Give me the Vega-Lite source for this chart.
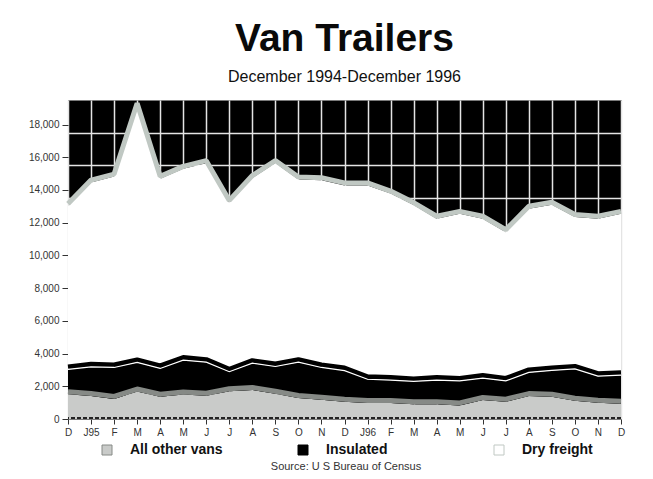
{
  "$schema": "https://vega.github.io/schema/vega-lite/v6.json",
  "width": 553,
  "height": 319,
  "autosize": {"type": "none"},
  "padding": {"left": 68, "top": 100, "right": 32, "bottom": 60},
  "background": "white",
  "config": {
    "font": "Liberation Sans",
    "view": {"fill": "#000000", "stroke": "#7a7a7a", "strokeWidth": 1}
  },
  "title": {
    "text": "Van Trailers",
    "subtitle": "December 1994-December 1996",
    "font": "Liberation Sans",
    "fontSize": 39,
    "fontWeight": "bold",
    "color": "#0a0a0a",
    "subtitleFont": "Liberation Sans",
    "subtitleFontSize": 16,
    "subtitleColor": "#111111",
    "anchor": "middle",
    "offset": 15,
    "subtitlePadding": 10
  },
  "data": {
    "values": [
      {"month": "1994-12", "All other vans": 1520, "Insulated": 1510, "Dry freight": 9970},
      {"month": "1995-01", "All other vans": 1400, "Insulated": 1790, "Dry freight": 11260},
      {"month": "1995-02", "All other vans": 1230, "Insulated": 1920, "Dry freight": 11670},
      {"month": "1995-03", "All other vans": 1680, "Insulated": 1780, "Dry freight": 15690},
      {"month": "1995-04", "All other vans": 1360, "Insulated": 1730, "Dry freight": 11590},
      {"month": "1995-05", "All other vans": 1500, "Insulated": 2100, "Dry freight": 11690},
      {"month": "1995-06", "All other vans": 1420, "Insulated": 2055, "Dry freight": 12165},
      {"month": "1995-07", "All other vans": 1700, "Insulated": 1190, "Dry freight": 10320},
      {"month": "1995-08", "All other vans": 1780, "Insulated": 1630, "Dry freight": 11320},
      {"month": "1995-09", "All other vans": 1540, "Insulated": 1670, "Dry freight": 12440},
      {"month": "1995-10", "All other vans": 1280, "Insulated": 2190, "Dry freight": 11170},
      {"month": "1995-11", "All other vans": 1180, "Insulated": 1970, "Dry freight": 11450},
      {"month": "1995-12", "All other vans": 1060, "Insulated": 1900, "Dry freight": 11320},
      {"month": "1996-01", "All other vans": 980, "Insulated": 1450, "Dry freight": 11850},
      {"month": "1996-02", "All other vans": 980, "Insulated": 1400, "Dry freight": 11400},
      {"month": "1996-03", "All other vans": 900, "Insulated": 1400, "Dry freight": 10780},
      {"month": "1996-04", "All other vans": 900, "Insulated": 1480, "Dry freight": 9860},
      {"month": "1996-05", "All other vans": 830, "Insulated": 1500, "Dry freight": 10210},
      {"month": "1996-06", "All other vans": 1160, "Insulated": 1340, "Dry freight": 9740},
      {"month": "1996-07", "All other vans": 1060, "Insulated": 1270, "Dry freight": 9090},
      {"month": "1996-08", "All other vans": 1400, "Insulated": 1450, "Dry freight": 10000},
      {"month": "1996-09", "All other vans": 1360, "Insulated": 1610, "Dry freight": 10130},
      {"month": "1996-10", "All other vans": 1120, "Insulated": 1940, "Dry freight": 9290},
      {"month": "1996-11", "All other vans": 1000, "Insulated": 1620, "Dry freight": 9620},
      {"month": "1996-12", "All other vans": 930, "Insulated": 1750, "Dry freight": 9860}
    ]
  },
  "transform": [
    {"fold": ["All other vans", "Insulated", "Dry freight"], "as": ["type", "value"]},
    {"stack": "value", "groupby": ["month"], "as": ["v0", "v1"]}
  ],
  "layer": [
    {
      "mark": {"type": "area", "interpolate": "linear"},
      "encoding": {
        "x": {
          "field": "month",
          "type": "ordinal",
          "scale": {"type": "point", "padding": 0},
          "axis": {
            "title": null,
            "labelAngle": 0,
            "labelExpr": "slice(datum.value,5)=='01' ? 'J' + slice(datum.value,2,4) : ['J','F','M','A','M','J','J','A','S','O','N','D'][toNumber(slice(datum.value,5))-1]",
            "labelFontSize": 10,
            "labelColor": "#333333",
            "labelPadding": 3,
            "tickColor": "#333333",
            "tickSize": 5,
            "domain": false,
            "grid": true,
            "gridColor": "#e4e4e4",
            "gridWidth": 1.5
          }
        },
        "y": {
          "field": "v1",
          "type": "quantitative",
          "scale": {"domain": [0, 19500], "nice": false, "zero": true},
          "axis": {
            "title": null,
            "tickCount": 60,
            "values": [0, 1500, 2000, 3500, 4000, 5500, 6000, 7500, 8000, 9500, 10000, 11500, 12000, 13500, 14000, 15500, 16000, 17500, 18000],
            "labelExpr": "datum.value % 2000 == 0 ? format(datum.value, ',d') : ''",
            "labelOverlap": false,
            "grid": true,
            "gridColor": "#e4e4e4",
            "gridWidth": 1.5,
            "gridOpacity": {"condition": {"test": "datum.value % 2000 == 0", "value": 0}, "value": 1},
            "tickOpacity": {"condition": {"test": "datum.value % 2000 == 0", "value": 1}, "value": 0},
            "domain": false,
            "tickColor": "#333333",
            "tickSize": 6,
            "labelFontSize": 10,
            "labelColor": "#333333",
            "labelPadding": 3
          }
        },
        "y2": {"field": "v0"},
        "color": {
          "field": "type",
          "type": "nominal",
          "scale": {
            "domain": ["All other vans", "Insulated", "Dry freight"],
            "range": ["#c9cbc9", "#000000", "#ffffff"]
          },
          "legend": {
            "orient": "none",
            "legendX": 32,
            "legendY": 343,
            "direction": "horizontal",
            "gridAlign": "all",
            "columnPadding": 73,
            "labelOffset": 16,
            "symbolType": "square",
            "symbolSize": 100,
            "symbolStrokeColor": "#222222",
            "symbolStrokeWidth": 1,
            "labelFontSize": 14,
            "labelFontWeight": "bold",
            "labelColor": "#111111",
            "title": "Source:  U S Bureau of Census",
            "titleOrient": "bottom",
            "titleAnchor": "middle",
            "titleFontSize": 11,
            "titleFontWeight": "normal",
            "titleColor": "#333333",
            "titlePadding": 4
          }
        }
      }
    },
    {
      "mark": {"type": "line", "strokeWidth": 5, "yOffset": -2.5, "strokeJoin": "bevel"},
      "encoding": {
        "x": {"field": "month", "type": "ordinal"},
        "y": {"field": "v1", "type": "quantitative"},
        "stroke": {
          "field": "type",
          "type": "nominal",
          "scale": {
            "domain": ["All other vans", "Insulated", "Dry freight"],
            "range": ["#868a86", "#000000", "#c0c8c3"]
          },
          "legend": null
        }
      }
    },
    {
      "transform": [{"filter": "datum.type === 'Insulated'"}],
      "mark": {"type": "line", "stroke": "#ffffff", "strokeWidth": 1.2},
      "encoding": {
        "x": {"field": "month", "type": "ordinal"},
        "y": {"field": "v1", "type": "quantitative"}
      }
    },
    {
      "data": {"values": [{}]},
      "mark": {"type": "rule", "color": "#222222", "strokeDash": [4, 2], "strokeWidth": 2, "yOffset": -1},
      "encoding": {
        "y": {"datum": 0, "type": "quantitative"}
      }
    }
  ]
}
